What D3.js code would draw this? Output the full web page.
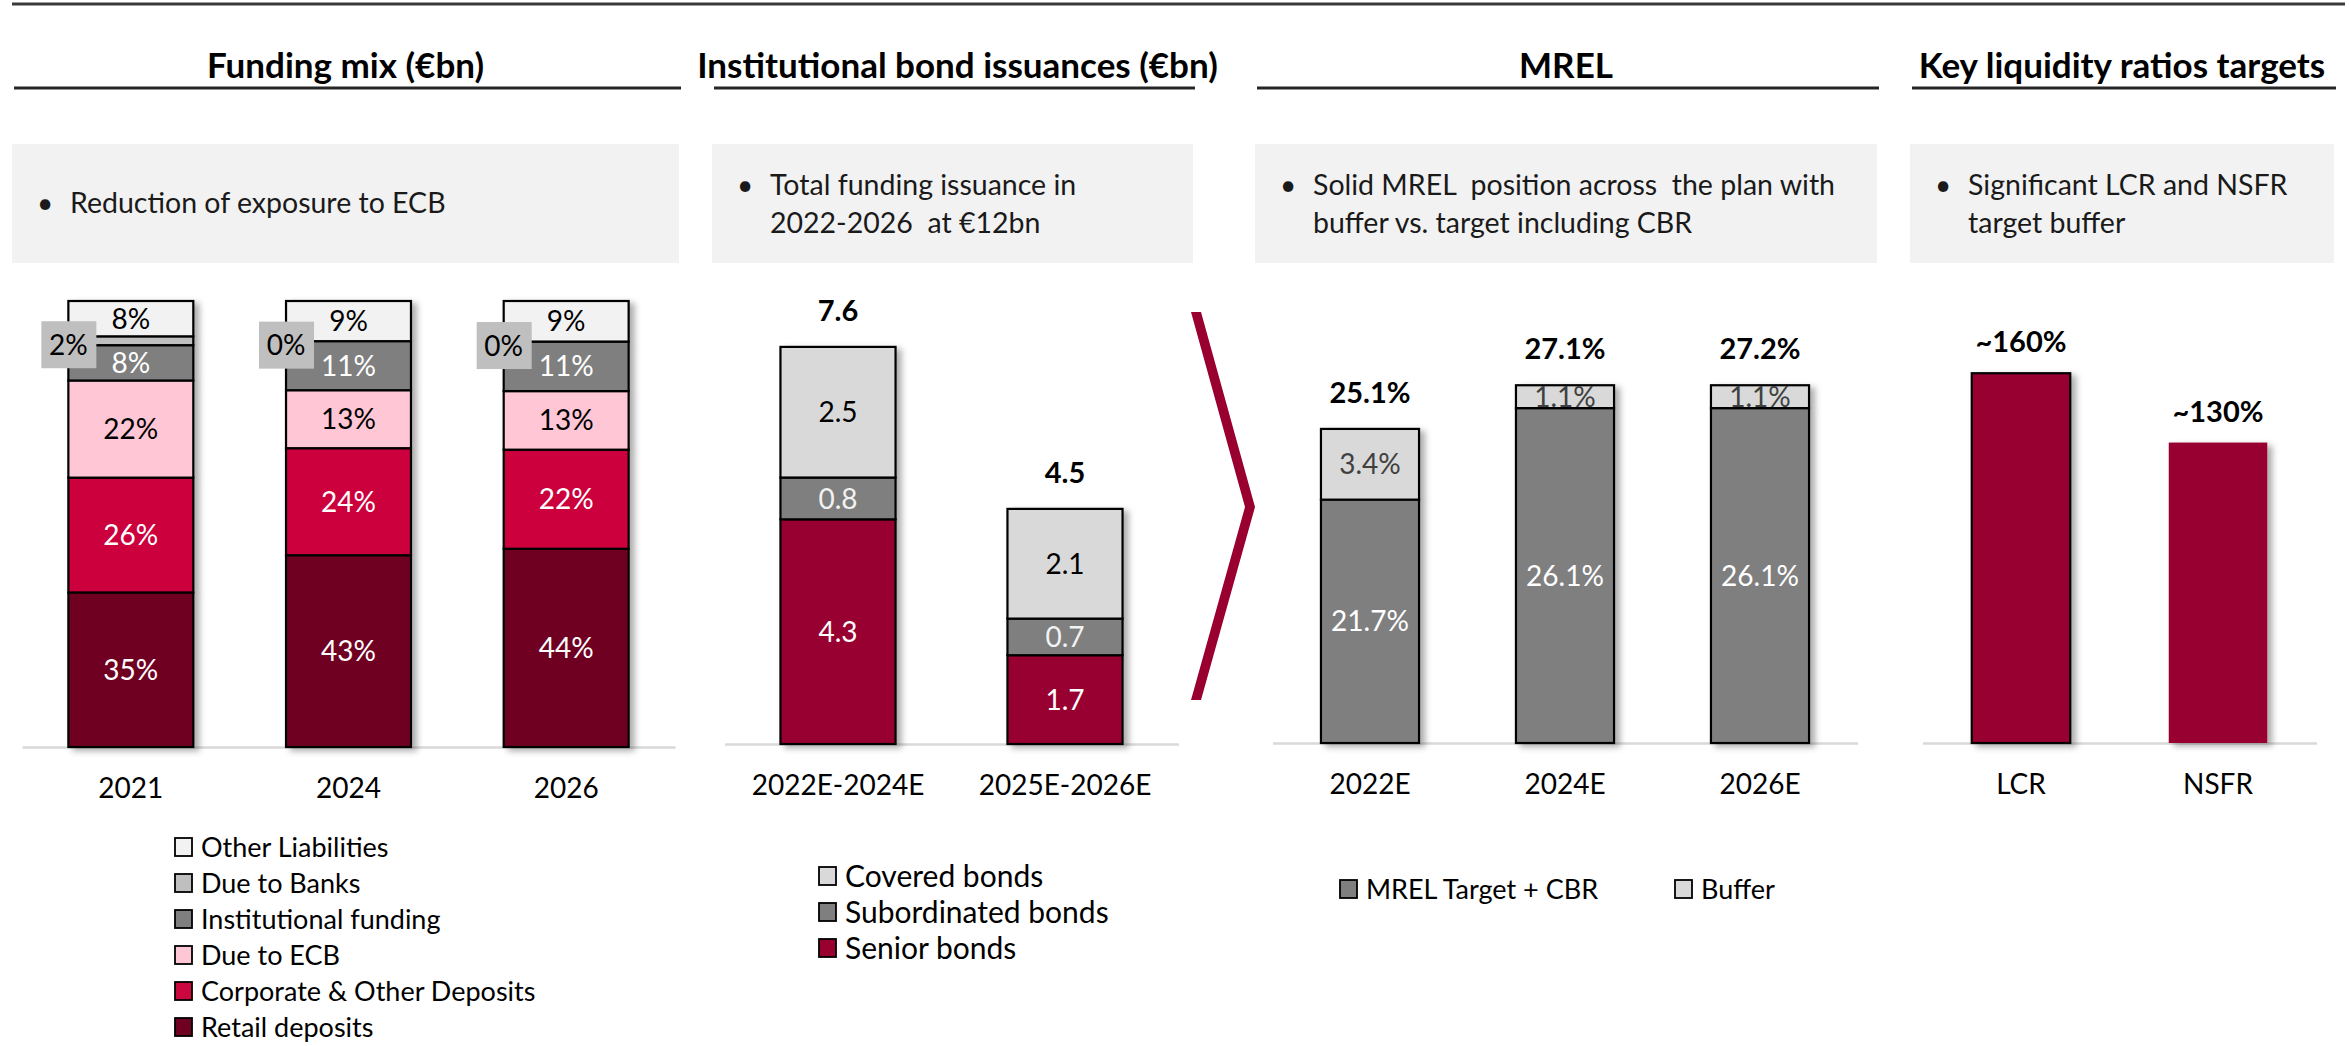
<!DOCTYPE html>
<html>
<head>
<meta charset="utf-8">
<script src="https://cdn.jsdelivr.net/npm/d3@7"></script>
<style>
  html, body { margin: 0; padding: 0; background: #ffffff; }
  svg text { font-family: Lato, "Open Sans", "Noto Sans", sans-serif; }
</style>
</head>
<body>
<svg id="chart" width="2351" height="1046"></svg>
<script>
// ---------- Data ----------
// Funding mix (% of total liabilities)
const fundingYears = ["2021", "2024", "2026"];
const retailDeposits = [35, 43, 44];
const corporateDeposits = [26, 24, 22];
const dueToECB = [22, 13, 13];
const institutionalFunding = [8, 11, 11];
const dueToBanks = [2, 0, 0];
const otherLiabilities = [8, 9, 9];
const fundingKeys = ["Retail deposits", "Corporate & Other Deposits", "Due to ECB",
                     "Institutional funding", "Due to Banks", "Other Liabilities"];

// Institutional bond issuances (€bn)
const bondPeriods = ["2022E-2024E", "2025E-2026E"];
const seniorBonds = [4.3, 1.7];
const subordinatedBonds = [0.8, 0.7];
const coveredBonds = [2.5, 2.1];
const bondKeys = ["Senior bonds", "Subordinated bonds", "Covered bonds"];

// MREL (% of RWA)
const mrelYears = ["2022E", "2024E", "2026E"];
const mrelTarget = [21.7, 26.1, 26.1];
const mrelBuffer = [3.4, 1.1, 1.1];
const mrelTotal = [25.1, 27.1, 27.2];
const mrelKeys = ["MREL Target + CBR", "Buffer"];

// Key liquidity ratio targets (%)
const liqRatios = ["LCR", "NSFR"];
const liqValues = [160, 130];

// Panel headings and notes
const panelTitles = ["Funding mix (€bn)", "Institutional bond issuances (€bn)", "MREL", "Key liquidity ratios targets"];
const panelNotes = [
  ["Reduction of exposure to ECB"],
  ["Total funding issuance in", "2022-2026  at €12bn"],
  ["Solid MREL  position across  the plan with", "buffer vs. target including CBR"],
  ["Significant LCR and NSFR", "target buffer"]
];

// ---------- Palette ----------
const fundingColors = {
  "Retail deposits": "#700021",
  "Corporate & Other Deposits": "#cc063e",
  "Due to ECB": "#ffc7d6",
  "Institutional funding": "#7f7f7f",
  "Due to Banks": "#bfbfbf",
  "Other Liabilities": "#f2f2f2"
};
const fundingText = {
  "Retail deposits": "#ffffff",
  "Corporate & Other Deposits": "#ffffff",
  "Due to ECB": "#000000",
  "Institutional funding": "#ffffff",
  "Due to Banks": "#000000",
  "Other Liabilities": "#000000"
};
const bondColors = { "Senior bonds": "#990030", "Subordinated bonds": "#7f7f7f", "Covered bonds": "#d9d9d9" };
const bondText = { "Senior bonds": "#ffffff", "Subordinated bonds": "#f2f2f2", "Covered bonds": "#000000" };
const mrelColors = { "MREL Target + CBR": "#7f7f7f", "Buffer": "#d9d9d9" };
const mrelText = { "MREL Target + CBR": "#ffffff", "Buffer": "#404040" };
const wine = "#990030";

// ---------- Layout ----------
const panels = [
  { x0: 12, x1: 679 },
  { x0: 712, x1: 1193 },
  { x0: 1255, x1: 1877 },
  { x0: 1910, x1: 2334 }
];
const LABEL_FS = 28;
const TOTAL_FS = 29;

const svg = d3.select("#chart");
const defs = svg.append("defs");
const shadow = defs.append("filter").attr("id", "barShadow")
  .attr("x", "-20%").attr("y", "-10%").attr("width", "150%").attr("height", "130%");
shadow.append("feDropShadow").attr("dx", 5).attr("dy", 3).attr("stdDeviation", 3)
  .attr("flood-color", "#000").attr("flood-opacity", 0.32);

// Top rule
svg.append("line").attr("x1", 12).attr("x2", 2345).attr("y1", 4).attr("y2", 4)
  .attr("stroke", "#3a3a3a").attr("stroke-width", 3);

// Panel headings, underlines and grey note boxes
panels.forEach((p, i) => {
  const cx = (p.x0 + p.x1) / 2;
  svg.append("text").attr("x", cx + (i === 1 ? 5 : 0)).attr("y", 78)
    .attr("text-anchor", "middle").attr("font-size", 35).attr("font-weight", 700)
    .attr("fill", "#000").text(panelTitles[i]);
  svg.append("line").attr("x1", p.x0 + 2).attr("x2", p.x1 + 2).attr("y1", 88).attr("y2", 88)
    .attr("stroke", "#262626").attr("stroke-width", 3);
  svg.append("rect").attr("x", p.x0).attr("y", 144).attr("width", p.x1 - p.x0).attr("height", 119)
    .attr("fill", "#f2f2f2");
  const lines = panelNotes[i];
  const baseY = lines.length === 1 ? 213 : 195;
  lines.forEach((ln, j) => {
    const y = baseY + j * 38;
    if (j === 0) {
      svg.append("text").attr("x", p.x0 + 25).attr("y", y).attr("font-size", 28)
        .attr("fill", "#1a1a1a").text("•");
    }
    svg.append("text").attr("x", p.x0 + 58).attr("y", y).attr("font-size", 28.5)
      .attr("fill", "#1a1a1a").style("white-space", "pre").text(ln);
  });
});

// Shared helpers
function categoryAxis(scale, baseline) {
  const g = svg.append("g").attr("transform", `translate(0,${baseline})`)
    .call(d3.axisBottom(scale).tickSize(0).tickSizeOuter(0).tickPadding(31));
  g.select(".domain").attr("stroke", "#d9d9d9").attr("stroke-width", 2.5);
  g.selectAll("text").attr("font-size", 28).attr("fill", "#000")
    .style("font-family", "Lato, 'Open Sans', sans-serif");
  return g;
}

function stackedBars(opts) {
  const { rows, keys, catKey, x, y, colors, textColors, fmt, offset, skipLabel } = opts;
  let st = d3.stack().keys(keys);
  if (offset) st = st.offset(offset);
  const series = st(rows);
  const layer = svg.append("g").attr("filter", "url(#barShadow)");
  series.forEach(s => {
    layer.selectAll(null).data(s).join("rect")
      .attr("x", d => x(d.data[catKey]))
      .attr("width", x.bandwidth())
      .attr("y", d => y(d[1]))
      .attr("height", d => Math.max(0, y(d[0]) - y(d[1])))
      .attr("fill", colors[s.key])
      .attr("stroke", "#000").attr("stroke-width", 2.2);
  });
  const labels = svg.append("g");
  series.forEach(s => {
    if (skipLabel && skipLabel(s.key)) return;
    labels.selectAll(null).data(s).join("text")
      .attr("x", d => x(d.data[catKey]) + x.bandwidth() / 2)
      .attr("y", d => (y(d[0]) + y(d[1])) / 2 + LABEL_FS * 0.36)
      .attr("text-anchor", "middle").attr("font-size", LABEL_FS)
      .attr("fill", textColors[s.key])
      .text(d => fmt(d.data[s.key]));
  });
  return series;
}

function legend(items, colors, x, yTop, step, fs, horizontal, hStep) {
  const g = svg.append("g");
  items.forEach((k, i) => {
    const gx = horizontal ? x + i * hStep : x;
    const gy = horizontal ? yTop : yTop + i * step;
    g.append("rect").attr("x", gx).attr("y", gy - 9).attr("width", 17).attr("height", 18)
      .attr("fill", colors[k]).attr("stroke", "#000").attr("stroke-width", 1.8);
    g.append("text").attr("x", gx + 26).attr("y", gy + fs * 0.36).attr("font-size", fs)
      .attr("fill", "#000").text(k);
  });
}

// ---------- Funding mix ----------
{
  const rows = fundingYears.map((yr, i) => ({
    year: yr,
    "Retail deposits": retailDeposits[i],
    "Corporate & Other Deposits": corporateDeposits[i],
    "Due to ECB": dueToECB[i],
    "Institutional funding": institutionalFunding[i],
    "Due to Banks": dueToBanks[i],
    "Other Liabilities": otherLiabilities[i]
  }));
  const x = d3.scaleBand().domain(fundingYears).range([22, 675]).paddingInner(0.426).paddingOuter(0.213);
  const y = d3.scaleLinear().domain([0, 1]).range([747, 301]);
  categoryAxis(x, 747);
  const series = stackedBars({
    rows, keys: fundingKeys, catKey: "year", x, y,
    colors: fundingColors, textColors: fundingText,
    fmt: v => v + "%", offset: d3.stackOffsetExpand,
    skipLabel: k => k === "Due to Banks"
  });
  // Due to Banks: value callout box at the bar's left edge
  const banks = series.find(s => s.key === "Due to Banks");
  const call = svg.append("g");
  banks.forEach(d => {
    const cx = x(d.data.year);
    const cy = (y(d[0]) + y(d[1])) / 2 + 4;
    call.append("rect").attr("x", cx - 27).attr("y", cy - 23.5).attr("width", 55).attr("height", 47)
      .attr("fill", "#bfbfbf");
    call.append("text").attr("x", cx).attr("y", cy + LABEL_FS * 0.36).attr("text-anchor", "middle")
      .attr("font-size", LABEL_FS).attr("fill", "#000").text(d.data["Due to Banks"] + "%");
  });
  legend(fundingKeys.slice().reverse(), fundingColors, 175, 847, 36, 27, false);
}

// ---------- Institutional bond issuances ----------
{
  const rows = bondPeriods.map((p, i) => ({
    period: p,
    "Senior bonds": seniorBonds[i],
    "Subordinated bonds": subordinatedBonds[i],
    "Covered bonds": coveredBonds[i]
  }));
  const x = d3.scaleBand().domain(bondPeriods).range([724.5, 1178.5]).paddingInner(0.493).paddingOuter(0.2465);
  const y = d3.scaleLinear().domain([0, 8]).range([744, 326]);
  categoryAxis(x, 744);
  stackedBars({
    rows, keys: bondKeys, catKey: "period", x, y,
    colors: bondColors, textColors: bondText, fmt: v => v.toFixed(1)
  });
  svg.append("g").selectAll("text").data(rows).join("text")
    .attr("x", d => x(d.period) + x.bandwidth() / 2)
    .attr("y", d => y(d3.sum(bondKeys, k => d[k])) - 26)
    .attr("text-anchor", "middle").attr("font-size", TOTAL_FS).attr("font-weight", 700)
    .text(d => d3.sum(bondKeys, k => d[k]).toFixed(1));
  legend(bondKeys.slice().reverse(), bondColors, 819, 876, 36, 30, false);

  // Chevron separating issuance from MREL
  svg.append("polygon")
    .attr("points", "1191,312 1201,312 1255,507 1201,700 1191,700 1245,507")
    .attr("fill", wine);
}

// ---------- MREL ----------
{
  const rows = mrelYears.map((yr, i) => ({
    year: yr, "MREL Target + CBR": mrelTarget[i], "Buffer": mrelBuffer[i], total: mrelTotal[i]
  }));
  const x = d3.scaleBand().domain(mrelYears).range([1272.5, 1857.5]).paddingInner(0.497).paddingOuter(0.2485);
  const y = d3.scaleLinear().domain([10, 30]).range([743, 327]).clamp(true);
  categoryAxis(x, 743);
  stackedBars({
    rows, keys: mrelKeys, catKey: "year", x, y,
    colors: mrelColors, textColors: mrelText, fmt: v => v.toFixed(1) + "%"
  });
  svg.append("g").selectAll("text").data(rows).join("text")
    .attr("x", d => x(d.year) + x.bandwidth() / 2)
    .attr("y", d => y(d["MREL Target + CBR"] + d["Buffer"]) - 26)
    .attr("text-anchor", "middle").attr("font-size", TOTAL_FS).attr("font-weight", 700)
    .text(d => d.total.toFixed(1) + "%");
  legend(mrelKeys, mrelColors, 1340, 889, 0, 27, true, 335);
}

// ---------- Key liquidity ratios ----------
{
  const rows = liqRatios.map((r, i) => ({ ratio: r, value: liqValues[i] }));
  const x = d3.scaleBand().domain(liqRatios).range([1922.5, 2316.5]).paddingInner(0.5).paddingOuter(0.25);
  const y = d3.scaleLinear().domain([0, 180]).range([743, 327]);
  categoryAxis(x, 743);
  svg.append("g").attr("filter", "url(#barShadow)")
    .selectAll("rect").data(rows).join("rect")
    .attr("x", d => x(d.ratio)).attr("width", x.bandwidth())
    .attr("y", d => y(d.value)).attr("height", d => y(0) - y(d.value))
    .attr("fill", wine)
    .attr("stroke", d => d.ratio === "LCR" ? "#000" : "none").attr("stroke-width", 2.2);
  svg.append("g").selectAll("text").data(rows).join("text")
    .attr("x", d => x(d.ratio) + x.bandwidth() / 2)
    .attr("y", d => y(d.value) - 21)
    .attr("text-anchor", "middle").attr("font-size", TOTAL_FS).attr("font-weight", 700)
    .text(d => "~" + d.value + "%");
}
</script>
</body>
</html>
